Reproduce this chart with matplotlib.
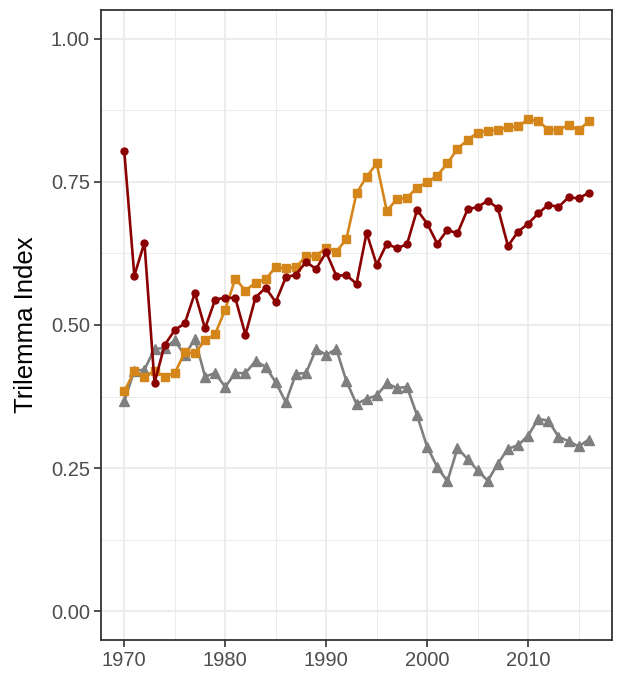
import numpy as np
import matplotlib
matplotlib.use("Agg")
import matplotlib.pyplot as plt
from matplotlib.ticker import FixedLocator

years = list(range(1970, 2017))

circle_series = [0.804, 0.586, 0.644, 0.399, 0.465, 0.491, 0.503, 0.556, 0.494, 0.544,
                 0.548, 0.547, 0.483, 0.548, 0.565, 0.540, 0.583, 0.588, 0.610, 0.598,
                 0.627, 0.586, 0.587, 0.572, 0.661, 0.605, 0.642, 0.634, 0.641, 0.701,
                 0.677, 0.642, 0.666, 0.660, 0.702, 0.706, 0.717, 0.704, 0.638, 0.663,
                 0.677, 0.695, 0.710, 0.706, 0.723, 0.721, 0.731]

square_series = [0.384, 0.419, 0.410, 0.420, 0.410, 0.416, 0.452, 0.451, 0.473, 0.484,
                 0.527, 0.581, 0.560, 0.574, 0.580, 0.601, 0.599, 0.601, 0.620, 0.621,
                 0.635, 0.628, 0.650, 0.730, 0.759, 0.782, 0.699, 0.720, 0.722, 0.740,
                 0.749, 0.761, 0.782, 0.808, 0.823, 0.836, 0.839, 0.841, 0.845, 0.847,
                 0.859, 0.856, 0.841, 0.841, 0.849, 0.840, 0.856]

triangle_series = [0.367, 0.420, 0.422, 0.458, 0.460, 0.473, 0.447, 0.476, 0.410, 0.416,
                   0.392, 0.416, 0.416, 0.437, 0.427, 0.400, 0.365, 0.415, 0.416, 0.458,
                   0.448, 0.458, 0.402, 0.362, 0.371, 0.377, 0.398, 0.390, 0.392, 0.342,
                   0.287, 0.252, 0.227, 0.285, 0.266, 0.246, 0.228, 0.258, 0.284, 0.290,
                   0.307, 0.336, 0.333, 0.305, 0.297, 0.288, 0.300]

x_ticks = [1970, 1980, 1990, 2000, 2010]
y_ticks = [0.00, 0.25, 0.50, 0.75, 1.00]
y_tick_labels = ["0.00", "0.25", "0.50", "0.75", "1.00"]

plt.rcParams['font.family'] = ['Liberation Sans', 'DejaVu Sans']

fig = plt.figure(figsize=(6.18, 6.76), dpi=100)
ax = fig.add_axes([101 / 618, 1 - 640 / 676, (612 - 101) / 618, (640 - 10) / 676])

lw = 1.9
ax.plot(years, triangle_series, color="#7f7f7f", lw=lw, marker="^", ms=6.5, zorder=3)
ax.plot(years, square_series, color="#d4861a", lw=lw, marker="s", ms=5.2, zorder=4)
ax.plot(years, circle_series, color="#8b0000", lw=lw, marker="o", ms=5.0, zorder=5)

ax.set_xlim(1967.7, 2018.3)
ax.set_ylim(-0.05, 1.05)

ax.xaxis.set_major_locator(FixedLocator(x_ticks))
ax.xaxis.set_minor_locator(FixedLocator([1975, 1985, 1995, 2005, 2015]))
ax.yaxis.set_major_locator(FixedLocator(y_ticks))
ax.yaxis.set_minor_locator(FixedLocator([0.125, 0.375, 0.625, 0.875]))
ax.set_yticklabels(y_tick_labels)

ax.grid(which="major", color="#ebebeb", lw=1.3, zorder=0)
ax.grid(which="minor", color="#ebebeb", lw=0.7, zorder=0)
ax.set_axisbelow(True)

for s in ax.spines.values():
    s.set_color("#333333")
    s.set_linewidth(1.3)

ax.tick_params(which="major", length=5, width=1.2, color="#333333",
               labelsize=14.5, labelcolor="#4d4d4d", pad=3)
ax.tick_params(which="minor", length=0)

ax.set_ylabel("Trilemma Index", fontsize=18.5, color="black", labelpad=9)

fig.savefig("out.png", dpi=100, facecolor="white")
